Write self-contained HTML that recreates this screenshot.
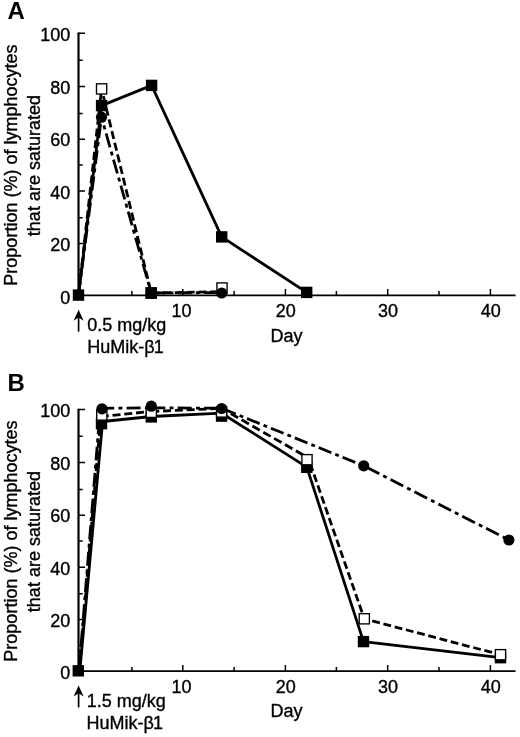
<!DOCTYPE html>
<html><head><meta charset="utf-8"><title>Figure</title>
<style>
html,body{margin:0;padding:0;background:#fff;}
svg{display:block}
.t{font-family:"Liberation Sans",sans-serif;font-size:18px;fill:#000;stroke:#000;stroke-width:0.35px}
.b{font-family:"Liberation Sans",sans-serif;font-size:24px;font-weight:bold;fill:#000}
</style></head><body>
<svg width="520" height="737" viewBox="0 0 520 737">
<rect width="520" height="737" fill="#fff"/>
<path d="M78.5 32.5V296.1" fill="none" stroke="#000" stroke-width="2.2"/>
<path d="M78.5 295.3H515.6" fill="none" stroke="#000" stroke-width="1.7"/>
<path d="M78.5 269.5h4.2 M78.5 243.4h6.5 M78.5 217.8h4.2 M78.5 191.0h6.5 M78.5 165.1h4.2 M78.5 139.2h6.5 M78.5 113.5h4.2 M78.5 86.5h6.5 M78.5 60.3h4.2 M78.5 33.3h6.5 M131.9 295.3v-4.2 M182.8 295.3v-6.2 M234.1 295.3v-4.2 M285.4 295.3v-6.2 M336.4 295.3v-4.2 M387.7 295.3v-6.2 M439.0 295.3v-4.2 M490.4 295.3v-6.2" fill="none" stroke="#000" stroke-width="1.5"/>
<text x="70.3" y="303.6" text-anchor="end" class="t">0</text>
<text x="70.3" y="251.1" text-anchor="end" class="t">20</text>
<text x="70.3" y="198.7" text-anchor="end" class="t">40</text>
<text x="70.3" y="146.2" text-anchor="end" class="t">60</text>
<text x="70.3" y="93.8" text-anchor="end" class="t">80</text>
<text x="70.3" y="41.3" text-anchor="end" class="t">100</text>
<text x="181.6" y="316.7" text-anchor="middle" class="t">10</text>
<text x="285.7" y="316.7" text-anchor="middle" class="t">20</text>
<text x="388.0" y="316.7" text-anchor="middle" class="t">30</text>
<text x="490.7" y="316.7" text-anchor="middle" class="t">40</text>
<text x="286.6" y="341.5" text-anchor="middle" class="t">Day</text>
<text x="7.5" y="18.5" class="b">A</text>
<text transform="translate(16.9 165.1) rotate(-90)" text-anchor="middle" class="t">Proportion (%) of lymphocytes</text>
<text transform="translate(39.5 165.6) rotate(-90)" text-anchor="middle" class="t">that are saturated</text>
<path d="M78.6 331.6V313.8" fill="none" stroke="#000" stroke-width="1.7"/>
<path d="M78.6 309.8L83.6 320.8L78.6 317.4L73.6 320.8Z" fill="#000"/>
<text x="87.3" y="330.5" class="t">0.5 mg/kg</text>
<text x="87.3" y="352.5" class="t">HuMik-β<tspan dx="-0.9">1</tspan></text>
<polyline points="78.5,295.1 101.6,105.6 151.6,85.4 221.7,236.9 306.7,292.4" fill="none" stroke="#000" stroke-width="2.8" stroke-linejoin="round"/>
<line x1="78.5" y1="295.1" x2="101.6" y2="88.9" stroke="#000" stroke-width="2.8" stroke-dasharray="8.00 3.80" stroke-dashoffset="5.60"/>
<line x1="101.6" y1="88.9" x2="151.2" y2="293.0" stroke="#000" stroke-width="2.8" stroke-dasharray="8.14 3.86" stroke-dashoffset="4.60"/>
<line x1="151.2" y1="293.0" x2="222.0" y2="291.6" stroke="#000" stroke-width="2.8" stroke-dasharray="8.00 3.80" stroke-dashoffset="0.00"/>
<line x1="78.5" y1="295.1" x2="101.5" y2="117.2" stroke="#000" stroke-width="2.8" stroke-dasharray="14.00 4.30 3.90 4.20" stroke-dashoffset="0.00"/>
<line x1="101.5" y1="117.2" x2="151.2" y2="293.0" stroke="#000" stroke-width="2.8" stroke-dasharray="14.37 4.41 4.00 4.31" stroke-dashoffset="10.20"/>
<line x1="151.2" y1="293.0" x2="221.7" y2="292.6" stroke="#000" stroke-width="2.8" stroke-dasharray="14.00 4.30 3.90 4.20" stroke-dashoffset="0.00"/>
<rect x="95.9" y="99.9" width="11.4" height="11.4" fill="#000"/>
<rect x="145.9" y="79.7" width="11.4" height="11.4" fill="#000"/>
<rect x="216.0" y="231.2" width="11.4" height="11.4" fill="#000"/>
<rect x="301.0" y="286.7" width="11.4" height="11.4" fill="#000"/>
<rect x="96.50" y="83.80" width="10.2" height="10.2" fill="#fff" stroke="#000" stroke-width="1.35"/>
<rect x="146.10" y="287.90" width="10.2" height="10.2" fill="#fff" stroke="#000" stroke-width="1.35"/>
<rect x="216.90" y="282.90" width="10.2" height="10.2" fill="#fff" stroke="#000" stroke-width="1.35"/>
<circle cx="101.5" cy="117.2" r="5.6" fill="#000"/>
<circle cx="151.2" cy="293.0" r="5.6" fill="#000"/>
<circle cx="221.7" cy="293.0" r="5.6" fill="#000"/>
<rect x="145.6" y="287.3" width="11.4" height="11.4" fill="#000"/>
<rect x="72.8" y="289.4" width="11.4" height="11.4" fill="#000"/>
<path d="M78.5 408.7V671.9" fill="none" stroke="#000" stroke-width="2.2"/>
<path d="M78.5 671.1H515.6" fill="none" stroke="#000" stroke-width="1.7"/>
<path d="M78.5 645.5h4.2 M78.5 619.6h6.5 M78.5 593.8h4.2 M78.5 567.2h6.5 M78.5 541.0h4.2 M78.5 515.3h6.5 M78.5 489.5h4.2 M78.5 462.5h6.5 M78.5 436.3h4.2 M78.5 409.5h6.5 M131.9 671.1v-4.2 M182.8 671.1v-6.2 M234.1 671.1v-4.2 M285.4 671.1v-6.2 M336.4 671.1v-4.2 M387.7 671.1v-6.2 M439.0 671.1v-4.2 M490.4 671.1v-6.2" fill="none" stroke="#000" stroke-width="1.5"/>
<text x="70.3" y="679.4" text-anchor="end" class="t">0</text>
<text x="70.3" y="626.9" text-anchor="end" class="t">20</text>
<text x="70.3" y="574.5" text-anchor="end" class="t">40</text>
<text x="70.3" y="522.0" text-anchor="end" class="t">60</text>
<text x="70.3" y="469.6" text-anchor="end" class="t">80</text>
<text x="70.3" y="417.1" text-anchor="end" class="t">100</text>
<text x="181.6" y="692.5" text-anchor="middle" class="t">10</text>
<text x="285.7" y="692.5" text-anchor="middle" class="t">20</text>
<text x="388.0" y="692.5" text-anchor="middle" class="t">30</text>
<text x="490.7" y="692.5" text-anchor="middle" class="t">40</text>
<text x="286.6" y="717.3" text-anchor="middle" class="t">Day</text>
<text x="7.5" y="391.0" class="b">B</text>
<text transform="translate(16.9 541.1) rotate(-90)" text-anchor="middle" class="t">Proportion (%) of lymphocytes</text>
<text transform="translate(39.5 541.6) rotate(-90)" text-anchor="middle" class="t">that are saturated</text>
<path d="M78.6 707.4V689.6" fill="none" stroke="#000" stroke-width="1.7"/>
<path d="M78.6 685.6L83.6 696.6L78.6 693.2L73.6 696.6Z" fill="#000"/>
<text x="86.8" y="707.0" class="t">1.5 mg/kg</text>
<text x="86.5" y="729.0" class="t">HuMik-β<tspan dx="-0.9">1</tspan></text>
<polyline points="79.8,671.0 102.6,421.5 151.3,416.5 221.6,413.2 306.8,467.1 363.5,641.6 500.5,657.7" fill="none" stroke="#000" stroke-width="2.8" stroke-linejoin="round"/>
<line x1="79.2" y1="671.0" x2="100.8" y2="416.5" stroke="#000" stroke-width="2.8" stroke-dasharray="8.00 3.80" stroke-dashoffset="0.00"/>
<line x1="100.8" y1="416.5" x2="151.3" y2="411.5" stroke="#000" stroke-width="2.8" stroke-dasharray="8.00 3.80" stroke-dashoffset="0.00"/>
<line x1="151.3" y1="411.5" x2="221.6" y2="408.4" stroke="#000" stroke-width="2.8" stroke-dasharray="8.00 3.80" stroke-dashoffset="0.00"/>
<line x1="221.6" y1="408.4" x2="308.2" y2="457.8" stroke="#000" stroke-width="2.8" stroke-dasharray="8.47 4.03" stroke-dashoffset="2.00"/>
<line x1="308.2" y1="457.8" x2="364.3" y2="618.8" stroke="#000" stroke-width="2.8" stroke-dasharray="7.80 3.70" stroke-dashoffset="5.30"/>
<line x1="364.3" y1="618.8" x2="500.5" y2="654.7" stroke="#000" stroke-width="2.8" stroke-dasharray="7.86 3.74" stroke-dashoffset="3.40"/>
<line x1="79.0" y1="671.0" x2="100.2" y2="408.3" stroke="#000" stroke-width="2.8" stroke-dasharray="14.00 4.30 3.90 4.20" stroke-dashoffset="0.00"/>
<line x1="100.2" y1="408.3" x2="151.3" y2="407.8" stroke="#000" stroke-width="2.8" stroke-dasharray="14.00 4.30 3.90 4.20" stroke-dashoffset="0.00"/>
<line x1="151.3" y1="407.8" x2="221.6" y2="408.2" stroke="#000" stroke-width="2.8" stroke-dasharray="14.00 4.30 3.90 4.20" stroke-dashoffset="0.00"/>
<line x1="221.6" y1="408.2" x2="363.7" y2="465.8" stroke="#000" stroke-width="2.8" stroke-dasharray="13.68 4.20 3.81 4.10" stroke-dashoffset="24.20"/>
<line x1="363.7" y1="465.8" x2="508.9" y2="540.0" stroke="#000" stroke-width="2.8" stroke-dasharray="14.24 4.37 3.97 4.27" stroke-dashoffset="23.60"/>
<rect x="95.8" y="418.0" width="11.4" height="11.4" fill="#000"/>
<rect x="145.6" y="411.2" width="11.4" height="11.4" fill="#000"/>
<rect x="215.9" y="410.4" width="11.4" height="11.4" fill="#000"/>
<rect x="301.1" y="461.6" width="11.4" height="11.4" fill="#000"/>
<rect x="357.8" y="635.9" width="11.4" height="11.4" fill="#000"/>
<rect x="494.8" y="652.0" width="11.4" height="11.4" fill="#000"/>
<rect x="96.70" y="409.90" width="10.2" height="10.2" fill="#fff" stroke="#000" stroke-width="1.35"/>
<rect x="146.20" y="407.20" width="10.2" height="10.2" fill="#fff" stroke="#000" stroke-width="1.35"/>
<rect x="216.50" y="406.90" width="10.2" height="10.2" fill="#fff" stroke="#000" stroke-width="1.35"/>
<rect x="301.90" y="454.60" width="10.2" height="10.2" fill="#fff" stroke="#000" stroke-width="1.35"/>
<rect x="359.20" y="613.70" width="10.2" height="10.2" fill="#fff" stroke="#000" stroke-width="1.35"/>
<rect x="495.40" y="649.60" width="10.2" height="10.2" fill="#fff" stroke="#000" stroke-width="1.35"/>
<circle cx="102.0" cy="408.8" r="5.6" fill="#000"/>
<circle cx="151.3" cy="406.2" r="5.6" fill="#000"/>
<circle cx="221.6" cy="408.5" r="5.6" fill="#000"/>
<circle cx="363.7" cy="465.8" r="5.6" fill="#000"/>
<circle cx="508.9" cy="540.0" r="5.6" fill="#000"/>
<rect x="72.6" y="665.1" width="11.4" height="11.4" fill="#000"/>
</svg>
</body></html>
